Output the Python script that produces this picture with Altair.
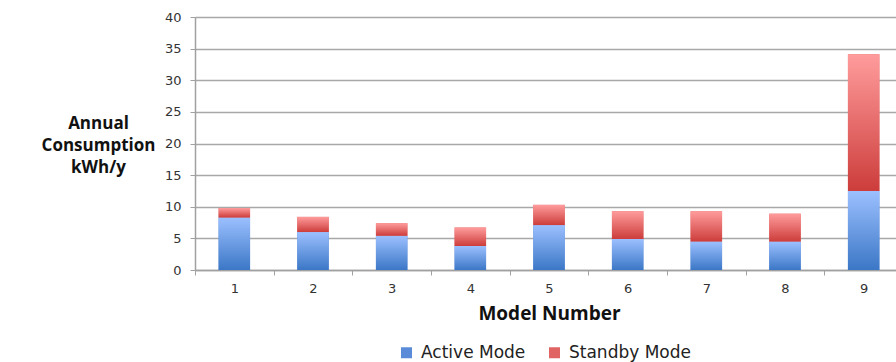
import altair as alt
import pandas as pd

# Annual energy use per model, split by operating mode (kWh/y)
models = ["1", "2", "3", "4", "5", "6", "7", "8", "9"]
active_mode = [8.3, 6.0, 5.4, 3.8, 7.1, 4.9, 4.5, 4.5, 12.5]
standby_mode = [1.5, 2.4, 2.0, 2.9, 3.2, 4.4, 4.8, 4.4, 21.6]
y_ticks = [0, 5, 10, 15, 20, 25, 30, 35, 40]

df = pd.DataFrame({"model": models, "active": active_mode, "standby": standby_mode})

blue_grad = {
    "gradient": "linear", "x1": 0, "y1": 0, "x2": 0, "y2": 1,
    "stops": [{"offset": 0, "color": "#9cc0ff"}, {"offset": 1, "color": "#3b77c6"}],
}
red_grad = {
    "gradient": "linear", "x1": 0, "y1": 0, "x2": 0, "y2": 1,
    "stops": [{"offset": 0, "color": "#ff9c9c"}, {"offset": 1, "color": "#cc3d3b"}],
}

x_enc = alt.X(
    "model:N",
    sort=models,
    scale=alt.Scale(range=[0, 708], paddingInner=0, paddingOuter=0),
    axis=alt.Axis(
        title="Model Number",
        labelAngle=0,
        labelFont="DejaVu Sans",
        labelFontSize=13,
        labelColor="#333333",
        labelPadding=7,
        tickBand="extent",
        tickColor="#a0a0a0",
        tickSize=5,
        domainColor="#a0a0a0",
        domainWidth=1.5,
        grid=False,
        titleFont="Open Sans",
        titleFontWeight="bold",
        titleFontSize=19,
        titleColor="#111111",
        titleX=354,
        titleY=43,
        titleAlign="center",
        titleBaseline="middle",
    ),
)

y_axis = alt.Axis(
    title=["Annual", "Consumption", "kWh/y"],
    values=y_ticks,
    labelOverlap=False,
    labelFont="DejaVu Sans",
    labelFontSize=13,
    labelColor="#333333",
    labelPadding=9,
    tickColor="#a0a0a0",
    tickSize=5,
    domainColor="#a0a0a0",
    domainWidth=1.5,
    gridColor="#a8a8a8",
    gridWidth=1.5,
    titleFont="Open Sans",
    titleFontWeight="bold",
    titleFontSize=17,
    titleColor="#111111",
    titleAngle=0,
    titleAlign="center",
    titleBaseline="top",
    titleLineHeight=22,
    titleX=-97,
    titleY=98,
)
y_scale = alt.Scale(domain=[0, 40], nice=False)

# Stacked bars carrying the legend
legend_bars = (
    alt.Chart(df)
    .transform_fold(["active", "standby"], as_=["mode_key", "kwh"])
    .transform_calculate(
        Mode="datum.mode_key == 'active' ? 'Active Mode' : 'Standby Mode'"
    )
    .mark_bar(width={"band": 0.4})
    .encode(
        x=x_enc,
        y=alt.Y("sum(kwh):Q", scale=y_scale, axis=y_axis, stack="zero"),
        color=alt.Color(
            "Mode:N",
            scale=alt.Scale(domain=["Active Mode", "Standby Mode"], range=["#5a8bd8", "#e06464"]),
            legend=alt.Legend(
                title=None,
                orient="none",
                direction="horizontal",
                legendX=203,
                legendY=327,
                symbolType="square",
                symbolSize=121,
                symbolStrokeWidth=0,
                labelFont="DejaVu Sans",
                labelFontSize=17,
                labelColor="#222222",
                labelOffset=6,
                columnPadding=20,
            ),
        ),
        order=alt.Order("mode_key:N"),
    )
)

# Gradient-filled segments drawn over the stack
active_bars = (
    alt.Chart(df)
    .mark_bar(width={"band": 0.4}, fill=blue_grad)
    .encode(x=x_enc, y=alt.Y("active:Q", scale=y_scale, axis=y_axis), y2=alt.datum(0))
)

standby_bars = (
    alt.Chart(df)
    .transform_calculate(total="datum.active + datum.standby")
    .mark_bar(width={"band": 0.4}, fill=red_grad)
    .encode(x=x_enc, y=alt.Y("total:Q", scale=y_scale, axis=y_axis), y2=alt.Y2("active:Q"))
)

chart = (
    alt.layer(legend_bars, active_bars, standby_bars)
    .properties(
        width=701,
        height=253,
        autosize=alt.AutoSizeParams(type="none"),
        padding={"left": 195, "top": 17, "right": 0, "bottom": 92},
    )
    .configure_view(stroke=None)
    .configure(background="white")
)

chart.save("out.html", embed_options={"renderer": "svg", "actions": False})
